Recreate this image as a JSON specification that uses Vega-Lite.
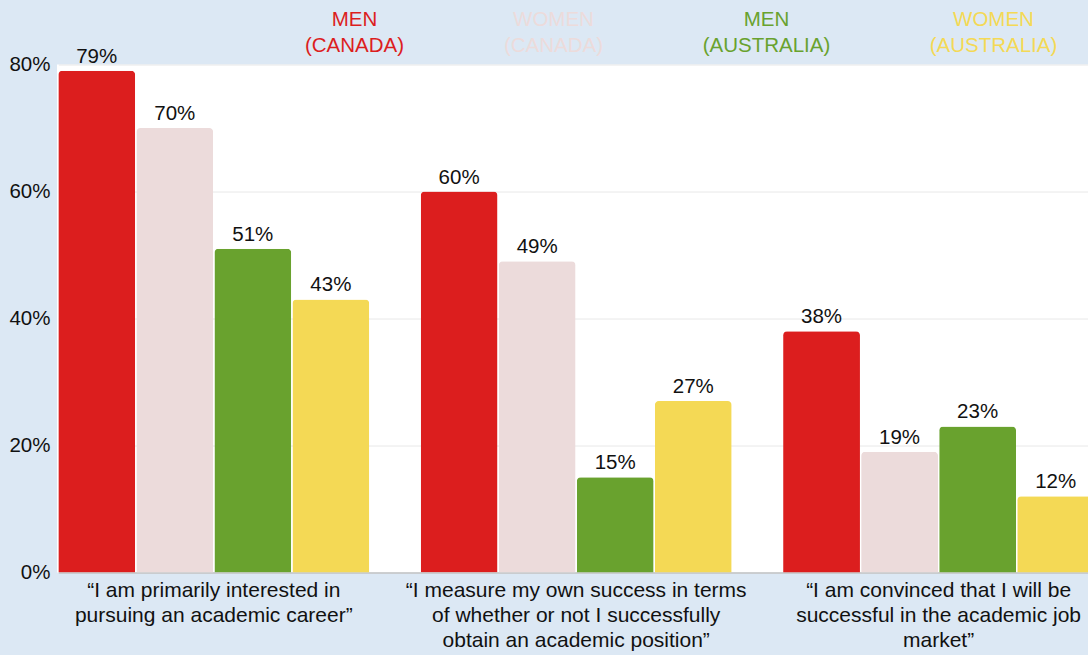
{
  "$schema": "https://vega.github.io/schema/vega-lite/v6.json",
  "width": 1031,
  "height": 508,
  "autosize": {"type": "none"},
  "padding": {"left": 57, "top": 64.5, "right": 0, "bottom": 82.5},
  "background": "#dce8f4",
  "view": {"fill": "white", "stroke": null},
  "config": {
    "font": "Liberation Sans",
    "style": {"guide-label": {"lineHeight": 26}}
  },
  "data": {
    "values": [
      {"q": "“I am primarily interested in|pursuing an academic career”", "g": "MEN|(CANADA)", "v": 0.79},
      {"q": "“I am primarily interested in|pursuing an academic career”", "g": "WOMEN|(CANADA)", "v": 0.70},
      {"q": "“I am primarily interested in|pursuing an academic career”", "g": "MEN|(AUSTRALIA)", "v": 0.51},
      {"q": "“I am primarily interested in|pursuing an academic career”", "g": "WOMEN|(AUSTRALIA)", "v": 0.43},
      {"q": "“I measure my own success in terms|of whether or not I successfully|obtain an academic position”", "g": "MEN|(CANADA)", "v": 0.60},
      {"q": "“I measure my own success in terms|of whether or not I successfully|obtain an academic position”", "g": "WOMEN|(CANADA)", "v": 0.49},
      {"q": "“I measure my own success in terms|of whether or not I successfully|obtain an academic position”", "g": "MEN|(AUSTRALIA)", "v": 0.15},
      {"q": "“I measure my own success in terms|of whether or not I successfully|obtain an academic position”", "g": "WOMEN|(AUSTRALIA)", "v": 0.27},
      {"q": "“I am convinced that I will be|successful in the academic job|market”", "g": "MEN|(CANADA)", "v": 0.38},
      {"q": "“I am convinced that I will be|successful in the academic job|market”", "g": "WOMEN|(CANADA)", "v": 0.19},
      {"q": "“I am convinced that I will be|successful in the academic job|market”", "g": "MEN|(AUSTRALIA)", "v": 0.23},
      {"q": "“I am convinced that I will be|successful in the academic job|market”", "g": "WOMEN|(AUSTRALIA)", "v": 0.12}
    ]
  },
  "encoding": {
    "x": {
      "field": "q",
      "type": "nominal",
      "sort": null,
      "scale": {"range": [1.3, 1037.1], "paddingInner": 0.1418, "paddingOuter": 0},
      "axis": {
        "title": null,
        "labelAngle": 0,
        "labelFontSize": 21,
        "labelColor": "#111111",
        "labelExpr": "split(datum.label, '|')",
        "labelLineHeight": 25,
        "labelBaseline": "top",
        "labelPadding": 7,
        "labelLimit": 0,
        "ticks": false,
        "domainColor": "#b0b0b0",
        "domainWidth": 1.2
      }
    },
    "xOffset": {
      "field": "g",
      "type": "nominal",
      "sort": ["MEN|(CANADA)", "WOMEN|(CANADA)", "MEN|(AUSTRALIA)", "WOMEN|(AUSTRALIA)"],
      "scale": {"paddingInner": 0.015, "paddingOuter": 0}
    },
    "y": {
      "field": "v",
      "type": "quantitative",
      "scale": {"domain": [0, 0.8], "nice": false},
      "axis": {
        "title": null,
        "values": [0, 0.2, 0.4, 0.6, 0.8],
        "format": ".0%",
        "labelFontSize": 20.5,
        "labelColor": "#111111",
        "labelPadding": 7,
        "domain": false,
        "ticks": false,
        "grid": true,
        "gridColor": "#e8e8e8"
      }
    }
  },
  "layer": [
    {
      "mark": {"type": "bar", "cornerRadiusTopLeft": 4, "cornerRadiusTopRight": 4},
      "encoding": {
        "color": {
          "field": "g",
          "type": "nominal",
          "scale": {
            "domain": ["MEN|(CANADA)", "WOMEN|(CANADA)", "MEN|(AUSTRALIA)", "WOMEN|(AUSTRALIA)"],
            "range": ["#dc1e1e", "#ecdbdb", "#69a22e", "#f4d955"]
          },
          "legend": {
            "orient": "none",
            "legendX": 277,
            "legendY": -65,
            "direction": "horizontal",
            "title": null,
            "symbolSize": 0,
            "symbolOpacity": 0,
            "symbolStrokeWidth": 0,
            "labelOffset": 0,
            "labelAlign": "center",
            "labelBaseline": "top",
            "labelFontSize": 20.5,
            "labelLimit": 0,
            "labelExpr": "split(datum.label, '|')",
            "labelColor": {"expr": "scale('color', datum.value)"},
            "columnPadding": 98
          }
        }
      }
    },
    {
      "mark": {"type": "text", "baseline": "bottom", "dy": -4, "fontSize": 20.5, "color": "#111111"},
      "encoding": {
        "text": {"field": "v", "type": "quantitative", "format": ".0%"}
      }
    }
  ]
}
